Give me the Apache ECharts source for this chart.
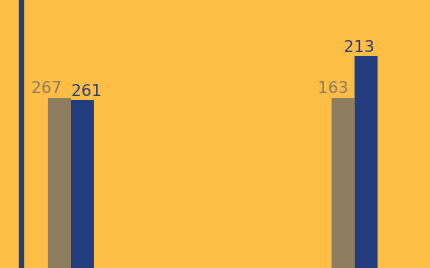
<!DOCTYPE html>
<html>
<head>
<meta charset="utf-8">
<script src="https://cdn.jsdelivr.net/npm/echarts@6/dist/echarts.min.js"></script>
<style>
html, body { margin: 0; padding: 0; background: #FDBE45; }
#chart { width: 430px; height: 268px; }
</style>
</head>
<body>
<div id="chart"></div>
<script>
// categories (middle one is empty in the visible crop)
const categories = ['A', 'B', 'C'];
// visible bar heights (in chart units)
const greyHeight = [170, '-', 170];
const blueHeight = [168, '-', 212];
// printed labels
const greyLabels = ['267', '', '163'];
const blueLabels = ['261', '', '213'];

const greyColor = '#8F7D60';
const blueColor = '#233C7D';

// small horizontal nudges of the labels as drawn in the picture
const greyShift = [-13, 0, -10];
const blueShift = [4, 0, -7];

function build(values, labels, shift) {
  return values.map((v, i) => ({
    value: v,
    label: {
      show: v !== '-',
      offset: [shift[i], 0],
      formatter: () => labels[i]
    }
  }));
}

const chart = echarts.init(document.getElementById('chart'));
chart.setOption({
  backgroundColor: '#FDBE45',
  animation: false,
  grid: { left: 0, right: 4.5, top: 0, bottom: 0 },
  xAxis: {
    type: 'category',
    data: categories,
    axisLine: { show: false },
    axisTick: { show: false },
    axisLabel: { show: false }
  },
  yAxis: {
    type: 'value',
    min: 0,
    max: 268,
    offset: -21,
    splitLine: { show: false },
    axisTick: { show: false },
    axisLabel: { show: false },
    axisLine: {
      show: true,
      lineStyle: { color: blueColor, width: 5, shadowColor: 'rgba(90,90,90,0.7)', shadowBlur: 2 }
    }
  },
  series: [
    {
      name: 'grey',
      type: 'bar',
      barWidth: 23,
      barGap: '0%',
      itemStyle: { color: greyColor },
      label: {
        position: 'top',
        distance: 1,
        color: '#8E7B66',
        fontFamily: 'DejaVu Sans',
        fontSize: 16
      },
      data: build(greyHeight, greyLabels, greyShift)
    },
    {
      name: 'blue',
      type: 'bar',
      barWidth: 23,
      itemStyle: { color: blueColor },
      label: {
        position: 'top',
        distance: 0,
        color: '#2A3D78',
        fontFamily: 'DejaVu Sans',
        fontSize: 16
      },
      data: build(blueHeight, blueLabels, blueShift)
    }
  ]
});
</script>
</body>
</html>
